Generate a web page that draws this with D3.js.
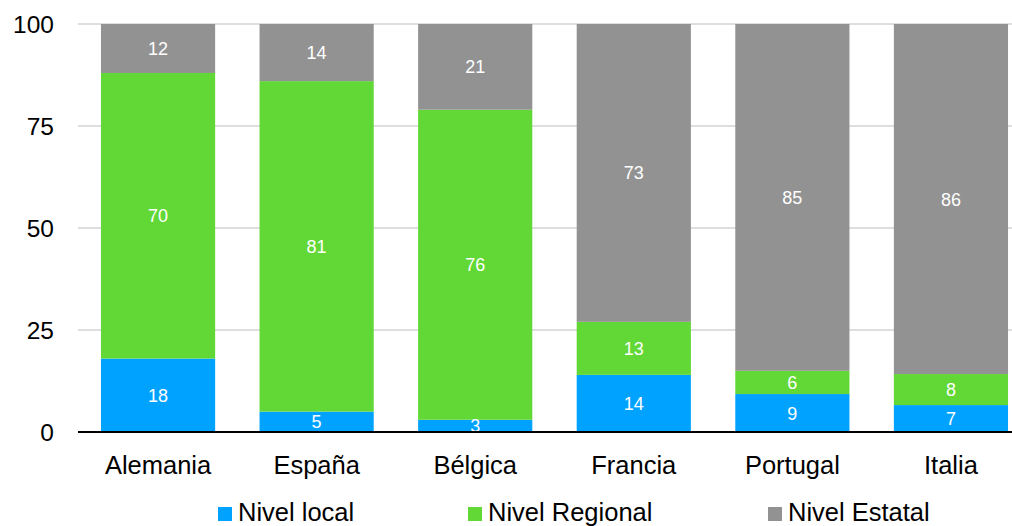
<!DOCTYPE html>
<html><head><meta charset="utf-8">
<script src="https://cdn.jsdelivr.net/npm/d3@7"></script>
<style>body{margin:0;background:#fff}svg{display:block;font-family:"Liberation Sans",Arial,Helvetica,sans-serif}</style>
</head><body><svg id="c" width="1012" height="526"></svg>
<script>
const categories = ["Alemania","España","Bélgica","Francia","Portugal","Italia"];
const seriesNames = ["Nivel local","Nivel Regional","Nivel Estatal"];
const nivelLocal = [18,5,3,14,9.3,6.6];
const nivelRegional = [70,81,76,13,5.7,7.6];
const nivelEstatal = [12,14,21,73,85,85.8];
const yTicks = [0,25,50,75,100];
const colors = ["#00A2FF","#61D836","#929292"];

const svg = d3.select("#c");
const y = d3.scaleLinear().domain([0,100]).range([432,24]);
const x = d3.scaleBand().domain(categories).range([97,1012]).paddingInner(0.28).paddingOuter(0.025);

const rows = categories.map((c,i)=>({cat:c, "Nivel local":nivelLocal[i], "Nivel Regional":nivelRegional[i], "Nivel Estatal":nivelEstatal[i]}));
const stacked = d3.stack().keys(seriesNames)(rows);

// gridlines
svg.append("g").selectAll("line").data(yTicks.filter(t=>t>0)).join("line")
  .attr("x1",78).attr("x2",1012).attr("y1",d=>y(d)).attr("y2",d=>y(d))
  .attr("stroke","#bdbdbd").attr("stroke-width",1.2);

// y labels
svg.append("g").selectAll("text").data(yTicks).join("text")
  .attr("x",54).attr("y",d=>y(d)).attr("dy","0.36em").attr("text-anchor","end")
  .attr("font-size",24.5).attr("fill","#000").text(d=>d);

svg.append("clipPath").attr("id","clip").append("rect")
  .attr("x",0).attr("y",y(100)).attr("width",1012).attr("height",y(0)-y(100));

const g = svg.append("g").attr("clip-path","url(#clip)");
stacked.forEach((s,si)=>{
  g.append("g").selectAll("rect").data(s).join("rect")
    .attr("x",d=>x(d.data.cat)).attr("width",x.bandwidth())
    .attr("y",d=>y(Math.min(100,d[1]))).attr("height",d=>y(d[0])-y(Math.min(100,d[1])))
    .attr("fill",colors[si]);
});
stacked.forEach((s,si)=>{
  svg.append("g").selectAll("text").data(s).join("text")
    .attr("x",d=>x(d.data.cat)+x.bandwidth()/2)
    .attr("y",d=>(y(d[0])+y(Math.min(100,d[1])))/2).attr("dy","0.36em")
    .attr("text-anchor","middle").attr("font-size",18).attr("fill","#fff")
    .text(d=>d3.format(".0f")(d[1]-d[0]));
});

// axis line
svg.append("line").attr("x1",78).attr("x2",1012).attr("y1",y(0)).attr("y2",y(0))
  .attr("stroke","#000").attr("stroke-width",2);

// category labels
const xa = svg.append("g").attr("transform",`translate(0,${y(0)})`)
  .call(d3.axisBottom(x).tickSize(0).tickPadding(0));
xa.select(".domain").remove();
xa.selectAll("text").attr("font-size",25.5).attr("fill","#000").attr("dy",0).attr("y",42)
  .attr("font-family","'Liberation Sans',Arial,sans-serif");

// legend
const legX = [218,468,768];
const leg = svg.append("g");
seriesNames.forEach((n,i)=>{
  leg.append("rect").attr("x",legX[i]).attr("y",507).attr("width",14).attr("height",14).attr("fill",colors[i]);
  leg.append("text").attr("x",legX[i]+20).attr("y",521).attr("font-size",25.5).attr("fill","#000").text(n);
});
</script></body></html>
